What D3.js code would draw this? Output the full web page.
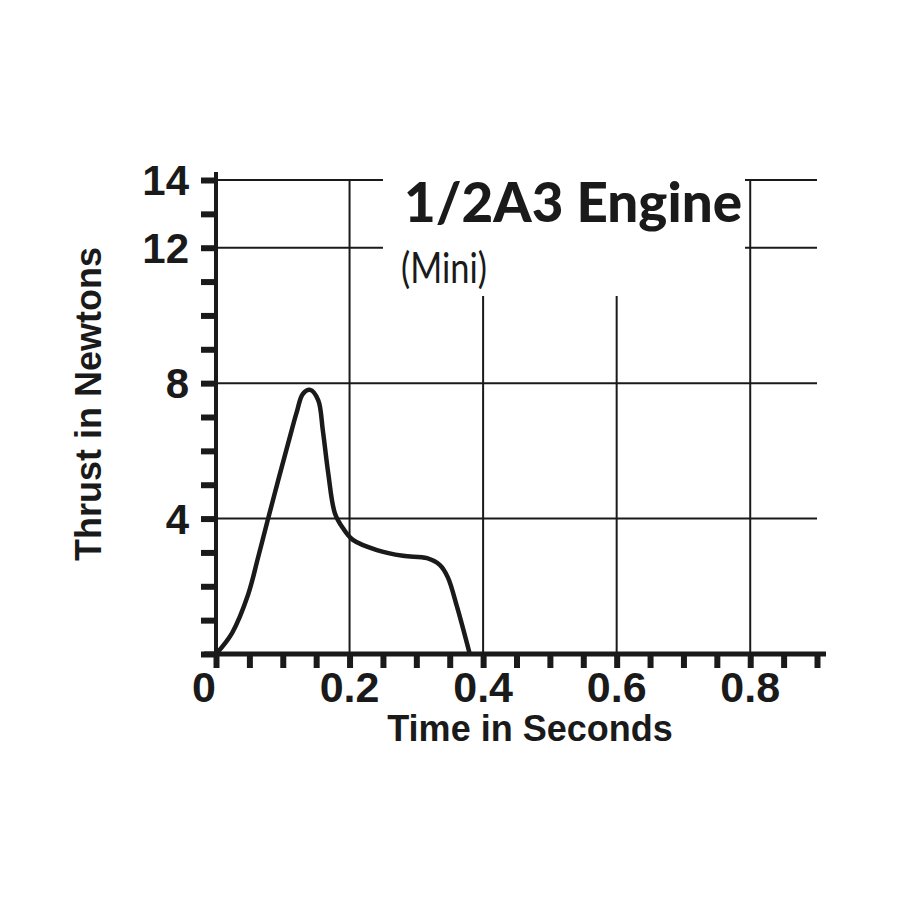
<!DOCTYPE html>
<html><head><meta charset="utf-8">
<script src="https://cdn.jsdelivr.net/npm/d3@7"></script>
<style>body{margin:0;background:#fff}</style>
</head><body>
<svg id="c" width="900" height="900"></svg>
<script>
const title = "1/2A3 Engine";
const subtitle = "(Mini)";
const xLabel = "Time in Seconds";
const yLabel = "Thrust in Newtons";
const xTickLabels = [0, 0.2, 0.4, 0.6, 0.8];
const yTickLabels = [4, 8, 12, 14];
const yGrid = [4, 8, 12, 14];
const xGrid = [0.2, 0.4, 0.6, 0.8];
const time = [0, 0.024, 0.048, 0.063, 0.077, 0.093, 0.108, 0.121, 0.130, 0.141, 0.153, 0.160, 0.168, 0.178, 0.190, 0.205, 0.241, 0.280, 0.316, 0.335, 0.347, 0.361, 0.380];
const thrust = [0, 0.62, 1.75, 2.85, 3.92, 5.12, 6.22, 7.15, 7.68, 7.8, 7.5, 6.6, 5.35, 4.16, 3.72, 3.37, 3.07, 2.9, 2.83, 2.63, 2.27, 1.39, 0];

const svg = d3.select("#c");
svg.append("rect").attr("width",900).attr("height",900).attr("fill","#fff");
const x = d3.scaleLinear().domain([0,0.9]).range([216,817]);
const y = d3.scaleLinear().domain([0,14]).range([654,180]);
const ink = "#1a1a1a";

// grid
svg.append("g").selectAll("line").data(yGrid).join("line")
  .attr("x1",x(0)).attr("x2",x(0.9)).attr("y1",d=>y(d)).attr("y2",d=>y(d))
  .attr("stroke",ink).attr("stroke-width",2);
svg.append("g").selectAll("line").data(xGrid).join("line")
  .attr("x1",d=>x(d)).attr("x2",d=>x(d)).attr("y1",y(0)).attr("y2",y(14))
  .attr("stroke",ink).attr("stroke-width",2);

// title block mask
svg.append("rect").attr("x",383).attr("y",170).attr("width",362).attr("height",126).attr("fill","#fff");
svg.append("text").attr("x",404).attr("y",222).text(title)
  .attr("font-family","Lato").attr("font-weight",900).attr("font-size",56).attr("fill",ink)
  .attr("textLength",338).attr("lengthAdjust","spacingAndGlyphs");
svg.append("text").attr("x",401).attr("y",283).text(subtitle)
  .attr("font-family","Lato").attr("font-size",43).attr("fill",ink)
  .attr("textLength",86).attr("lengthAdjust","spacingAndGlyphs");

// axes
const xAxis = d3.axisBottom(x).tickValues(d3.range(0,19).map(i=>i*0.05)).tickSizeInner(14).tickSizeOuter(0)
  .tickFormat(()=> "");
const gx = svg.append("g").attr("transform",`translate(0,${y(0)})`).call(xAxis);
gx.select(".domain").remove();
gx.selectAll(".tick line").attr("stroke",ink).attr("stroke-width",6);
svg.append("line").attr("x1",x(0)-12).attr("x2",x(0.9)+9).attr("y1",y(0)).attr("y2",y(0))
  .attr("stroke",ink).attr("stroke-width",5);

const yAxis = d3.axisLeft(y).tickValues(d3.range(0,15)).tickSizeInner(15).tickSizeOuter(0).tickFormat(()=> "");
const gy = svg.append("g").attr("transform",`translate(${x(0)},0)`).call(yAxis);
gy.select(".domain").remove();
gy.selectAll(".tick line").attr("stroke",ink).attr("stroke-width",6);
svg.append("line").attr("x1",x(0)).attr("x2",x(0)).attr("y1",y(14)-8).attr("y2",y(0)+6)
  .attr("stroke",ink).attr("stroke-width",4);

// tick labels
svg.append("g").selectAll("text").data(xTickLabels).join("text")
  .attr("x",d=> d===0 ? x(d)-12 : x(d)).attr("y",702).attr("text-anchor","middle")
  .text(d=>d===0?"0":d3.format(".1f")(d))
  .attr("font-family","Liberation Sans").attr("font-weight","bold").attr("font-size",43).attr("fill",ink);
svg.append("g").selectAll("text").data(yTickLabels).join("text")
  .attr("x",189).attr("y",d=>y(d)).attr("dy","0.36em").attr("text-anchor","end")
  .text(d=>d)
  .attr("font-family","Liberation Sans").attr("font-weight","bold").attr("font-size",42).attr("fill",ink);

// axis titles
svg.append("text").attr("x",530).attr("y",741).attr("text-anchor","middle").text(xLabel)
  .attr("font-family","Liberation Sans").attr("font-weight","bold").attr("font-size",36).attr("fill",ink);
svg.append("text").attr("transform","translate(101,404) rotate(-90)").attr("text-anchor","middle").text(yLabel)
  .attr("font-family","Liberation Sans").attr("font-weight","bold").attr("font-size",36).attr("fill",ink);

// curve
const pts = time.map((t,i)=>[t,thrust[i]]);
svg.append("path").datum(pts)
  .attr("d", d3.line().x(d=>x(d[0])).y(d=>y(d[1])).curve(d3.curveCatmullRom.alpha(0.5)))
  .attr("fill","none").attr("stroke",ink).attr("stroke-width",4.5).attr("stroke-linejoin","round");
</script>
</body></html>
